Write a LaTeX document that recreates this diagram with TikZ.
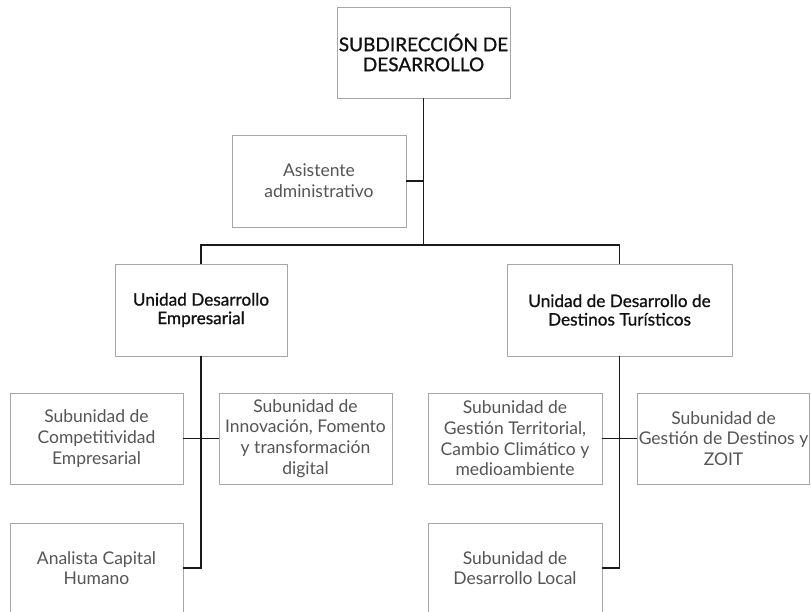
\documentclass[tikz,border=0pt]{standalone}
\usepackage{fontspec}
\setmainfont{Lato}
\newfontfamily\headfont[FakeBold=0.9]{Lato}
\usepackage{xcolor}
\usepackage{tikz}
\definecolor{bg}{HTML}{FFFFFF}
\definecolor{edge}{HTML}{A6A6A6}
\definecolor{ink}{HTML}{111111}
\definecolor{soft}{HTML}{555555}
\definecolor{wire}{HTML}{1A1A1A}
\tikzset{
  box/.style={draw=edge, line width=0.9pt, fill=white, align=center, inner sep=1pt},
  head/.style={box, text=ink, font=\headfont\fontsize{17.2}{18.5}\selectfont},
  top/.style={box, text=ink, font=\headfont\fontsize{19}{20}\selectfont},
  unit/.style={box, text=soft, font=\fontsize{17.5}{20.7}\selectfont},
  link/.style={draw=wire, line width=1.8pt},
}
\begin{document}
\begin{tikzpicture}[x=1pt, y=-1pt]
  \useasboundingbox[fill=bg] (0,0) rectangle (811,612);
  % director
  \node[top, minimum width=173pt, minimum height=91pt] (sub) at (423.5,52.5) {SUBDIRECCIÓN DE\\DESARROLLO};
  \node[unit, minimum width=174pt, minimum height=92pt] (asis) at (319,181) {Asistente\\administrativo};
  % units
  \node[head, minimum width=172pt, minimum height=92pt] (ude) at (201,310) {Unidad Desarrollo\\Empresarial};
  \node[head, minimum width=225pt, minimum height=92pt] (uddt) at (619.5,310) {Unidad de Desarrollo de\\Destinos Turísticos};
  % subunits, left
  \node[unit, minimum width=173pt, minimum height=91pt] (comp) at (96.5,438.5) {Subunidad de\\Competitividad\\Empresarial};
  \node[unit, minimum width=173pt, minimum height=91pt] (inno) at (305.5,438.5) {Subunidad de\\Innovación, Fomento\\y transformación\\digital};
  \node[unit, minimum width=173pt, minimum height=90pt] (anal) at (96.5,568) {Analista Capital\\Humano};
  % subunits, right
  \node[unit, minimum width=174pt, minimum height=91pt] (terr) at (515,438.5) {Subunidad de\\Gestión Territorial,\\Cambio Climático y\\medioambiente};
  \node[unit, minimum width=171pt, minimum height=91pt] (dest) at (723.5,438.5) {Subunidad de\\Gestión de Destinos y\\ZOIT};
  \node[unit, minimum width=174pt, minimum height=90pt] (local) at (515,568) {Subunidad de\\Desarrollo Local};

  \coordinate (bus) at (sub.south |- 0,245);
  \draw[link] (sub.south) -- (bus);
  \draw[link] (asis.east) -- (asis.east -| sub.south);
  \draw[link] (ude.north) |- (bus) -| (uddt.north);
  \draw[link] (ude.south) |- (anal.east);
  \draw[link] (comp.east) -- (inno.west);
  \draw[link] (uddt.south) |- (local.east);
  \draw[link] (terr.east) -- (dest.west);
\end{tikzpicture}
\end{document}
